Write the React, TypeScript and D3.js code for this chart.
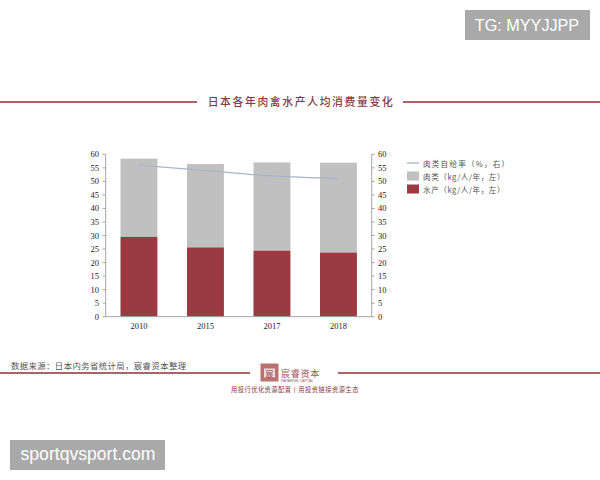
import React from "react";
import * as d3 from "d3";

const years = ["2010", "2015", "2017", "2018"];
const seafood = [29.5, 25.6, 24.4, 23.7];
const meat = [28.9, 30.8, 32.6, 33.2];
const selfSufficiency = [56, 54, 52, 51];
const ticks = d3.range(0, 61, 5);
const legendItems = ["肉类自给率（%，右）", "肉类（kg/人/年，左）", "水产（kg/人/年，左）"];
const title = "日本各年肉禽水产人均消费量变化";
const source = "数据来源：日本内务省统计局，宸睿资本整理";
const slogan = "用投行优化资源配置丨用投资链接资源生态";

const RED = "#9b3a41";
const LINE_RED = "#8e3038";
const GREY = "#c0c0c0";
const BLUE = "#a9b5cc";
const AXIS = "#a6a6a6";
const TEXT = "#222";
const CJK = "'Noto Sans CJK SC', sans-serif";
const SERIF = "'Liberation Serif', serif";
const SANS = "'Liberation Sans', sans-serif";

export default function App() {
  const x = d3.scaleBand().domain(years).range([105.7, 371.7]).paddingInner(0.445).paddingOuter(0.2225);
  const y = d3.scaleLinear().domain([0, 60]).range([316.7, 154.3]);
  const cx = (d: string) => (x(d) as number) + x.bandwidth() / 2;
  const line = d3.line<number>().x((_, i) => cx(years[i])).y((d) => y(d)).curve(d3.curveMonotoneX);
  return (
    <svg width={600} height={480} style={{ position: "absolute", left: 0, top: 0, background: "#fff" }}>
      <rect x={465} y={10} width={125} height={30} fill="#a9a9a9" />
      <text x={527} y={31} textAnchor="middle" fontFamily={SANS} fontSize={16.2} fill="#fff">TG: MYYJJPP</text>

      <line x1={0} x2={197} y1={102} y2={102} stroke={LINE_RED} strokeWidth={1.6} />
      <line x1={403} x2={600} y1={102} y2={102} stroke={LINE_RED} strokeWidth={1.6} />
      <text x={301} y={106} textAnchor="middle" fontFamily={CJK} fontSize={10.8} fontWeight={500} letterSpacing={1.65} fill="#8a3a45">{title}</text>

      {years.map((d, i) => (
        <g key={d}>
          <rect x={x(d)} width={x.bandwidth()} y={y(seafood[i] + meat[i])} height={y(seafood[i]) - y(seafood[i] + meat[i])} fill={GREY} />
          <rect x={x(d)} width={x.bandwidth()} y={y(seafood[i])} height={y(0) - y(seafood[i])} fill={RED} />
          <text x={cx(d)} y={328.5} textAnchor="middle" fontFamily={SERIF} fontSize={8.5} fill={TEXT}>{d}</text>
        </g>
      ))}
      <path d={line(selfSufficiency) as string} fill="none" stroke={BLUE} strokeWidth={1.3} />

      <line x1={105.7} x2={371.7} y1={316.7} y2={316.7} stroke={AXIS} />
      <line x1={105.7} x2={105.7} y1={154.3} y2={316.7} stroke={AXIS} />
      <line x1={371.7} x2={371.7} y1={154.3} y2={316.7} stroke={AXIS} />
      {ticks.map((t) => (
        <g key={t}>
          <line x1={102.7} x2={105.7} y1={y(t)} y2={y(t)} stroke={AXIS} />
          <line x1={371.7} x2={374.7} y1={y(t)} y2={y(t)} stroke={AXIS} />
          <text x={99} y={y(t) + 3} textAnchor="end" fontFamily={SERIF} fontSize={8.5} fill={TEXT}>{t}</text>
          <text x={378} y={y(t) + 3} fontFamily={SERIF} fontSize={8.5} fill={TEXT}>{t}</text>
        </g>
      ))}

      <line x1={407} x2={419} y1={163} y2={163} stroke={BLUE} strokeWidth={1.3} />
      <rect x={407} y={171.5} width={12} height={9} fill={GREY} />
      <rect x={407} y={184.5} width={12} height={9} fill={RED} />
      {legendItems.map((t, i) => (
        <text key={t} x={423} y={166.5 + i * 13} fontFamily={CJK} fontSize={7.6} letterSpacing={i === 0 ? 1.2 : 0.55} fill="#555">{t}</text>
      ))}

      <text x={11} y={369} fontFamily={CJK} fontSize={8.4} letterSpacing={0.4} fill="#555">{source}</text>
      <line x1={0} x2={250} y1={373} y2={373} stroke={LINE_RED} strokeWidth={1.3} />
      <line x1={338} x2={600} y1={373} y2={373} stroke={LINE_RED} strokeWidth={1.3} />
      <rect x={260.5} y={363.5} width={18} height={18} fill="#b9726e" />
      <rect x={264} y={368.5} width={11} height={9} fill="#fff" opacity={0.75} />
      <text x={269.5} y={376.5} textAnchor="middle" fontFamily={CJK} fontSize={8} fill="#9b3a41">宸</text>
      <text x={281} y={377} fontFamily={CJK} fontSize={9.2} letterSpacing={0.6} fill="#a4555a">宸睿资本</text>
      <text x={281} y={381.5} fontFamily={SANS} fontSize={3.4} fill="#a4555a">PARAWISE CAPITAL</text>
      <text x={295} y={392} textAnchor="middle" fontFamily={CJK} fontSize={6.3} letterSpacing={0.45} fill="#8a3a45">{slogan}</text>

      <rect x={10} y={440} width={155} height={30} fill="#a9a9a9" />
      <text x={88} y={460} textAnchor="middle" fontFamily={SANS} fontSize={17.6} fill="#fff">sportqvsport.com</text>
    </svg>
  );
}
